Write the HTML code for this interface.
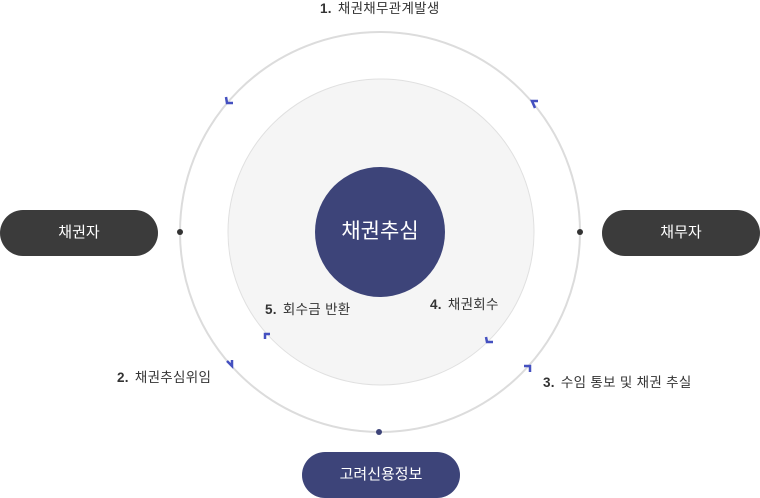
<!DOCTYPE html>
<html><head><meta charset="utf-8"><style>
body{margin:0;width:760px;height:498px;background:#fff;position:relative;overflow:hidden;font-family:"Liberation Sans","Noto Sans CJK KR",sans-serif;color:#333}
.t{position:absolute;font-size:13.5px;white-space:nowrap;line-height:16px;letter-spacing:0.3px}
.t b{font-weight:bold;margin-right:6px}
.pill{position:absolute;width:158px;height:46px;border-radius:23px;background:#3b3b3b;color:#fff;font-size:15px;line-height:46px;text-align:center}
</style></head><body>
<svg width="760" height="498" style="position:absolute;left:0;top:0">
<circle cx="380" cy="232" r="200" fill="none" stroke="#dcdcdc" stroke-width="2"/>
<circle cx="381" cy="232" r="153" fill="#f5f5f5" stroke="#e0e0e0" stroke-width="1"/>
<circle cx="380" cy="232" r="65" fill="#3d4479"/>
<circle cx="180" cy="232" r="3" fill="#333"/>
<circle cx="580" cy="232" r="3" fill="#333"/>
<circle cx="379" cy="432" r="3" fill="#3d4479"/>
<g fill="none" stroke="#4450c0" stroke-width="2.5">
<polyline points="226,97 227,103 233,103"/>
<polyline points="535,108 532,101 538,101"/>
<polyline points="227,361 232,366 232,360"/>
<polyline points="270,334 265,334 265,339"/>
<polyline points="486,337 487,342 493,342"/>
<polyline points="524,366 530,366 530,372"/>
</g>
</svg>
<div class="t" style="left:320px;top:1px"><b>1.</b>채권채무관계발생</div>
<div class="t" style="left:117px;top:370px"><b>2.</b>채권추심위임</div>
<div class="t" style="left:543px;top:375px"><b>3.</b>수임 통보 및 채권 추실</div>
<div class="t" style="left:265px;top:302px"><b>5.</b>회수금 반환</div>
<div class="t" style="left:430px;top:297px"><b>4.</b>채권회수</div>
<div style="position:absolute;left:315px;top:218px;width:130px;text-align:center;color:#fff;font-size:21px;line-height:28px">채권추심</div>
<div class="pill" style="left:0;top:210px">채권자</div>
<div class="pill" style="left:602px;top:210px">채무자</div>
<div class="pill" style="left:302px;top:452px;background:#3d4479">고려신용정보</div>
</body></html>
